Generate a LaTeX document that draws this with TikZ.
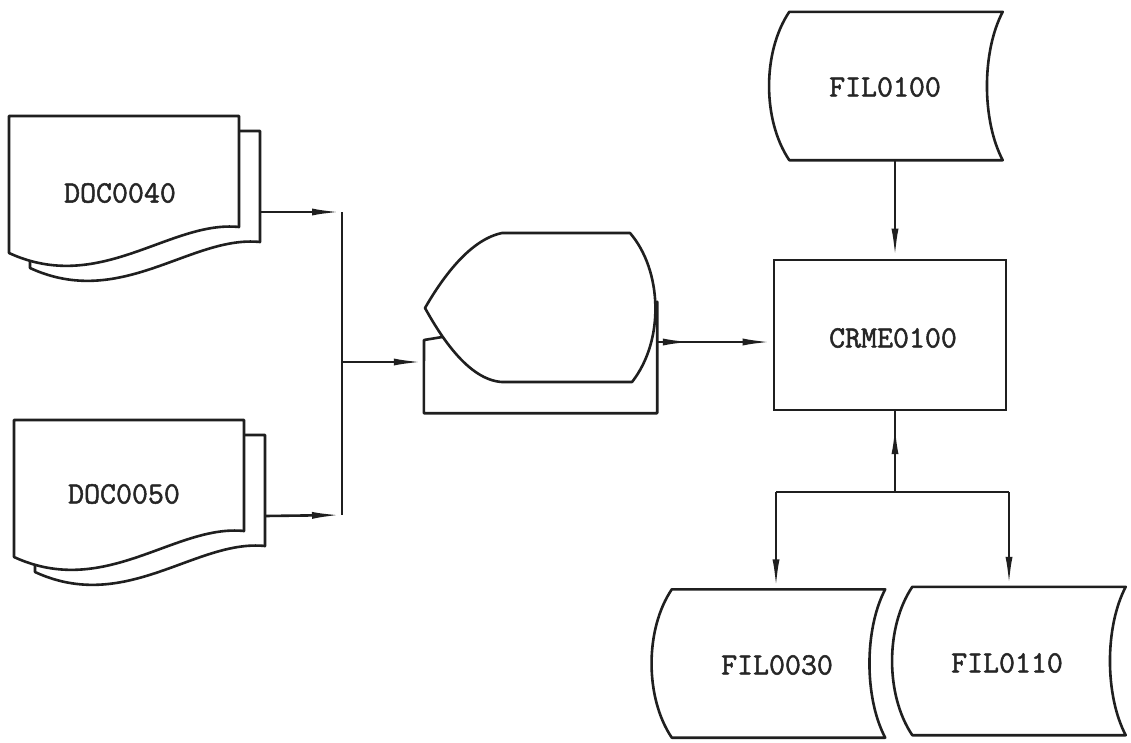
\documentclass[tikz,border=0pt]{standalone}
\usepackage{fontspec}
\newfontfamily\lblfont{Latin Modern Mono}[FakeBold=1.6]
\usetikzlibrary{arrows.meta,decorations.markings}
\tikzset{
  ln/.style={draw=black!88, line width=2.6pt, line join=round},
  flowtip/.tip={Latex[length=30pt,width=7pt]},
  flow/.style={ln, -flowtip},
  midflow/.style={ln, postaction={decorate},
    decoration={markings, mark=at position #1 with {\arrow{flowtip}}}},
  lbl/.style={font=\lblfont\bfseries\fontsize{31}{37}\selectfont, text=black!85, inner sep=0pt},
  store/.style={lbl, minimum width=213pt, minimum height=148pt},
  docpic/.pic={
    \draw[ln, fill=white] (21,15) -- (251,15) -- (251,126)
      .. controls (182,119) and (112,194) .. (21,152) -- cycle;
    \draw[ln, fill=white] (0,0) -- (230,0) -- (230,111)
      .. controls (161,104) and (91,179) .. (0,137) -- cycle;
    \coordinate (-out) at (251,96);
  }
}
\newcommand{\storeshape}[1]{%
  \draw[ln, fill=white] (#1.north west)
    .. controls +(-27,40) and +(-27,-40) .. (#1.south west)
    -- (#1.south east)
    .. controls +(-21,-40) and +(-21,40) .. (#1.north east) -- cycle;}
\begin{document}
\begin{tikzpicture}[x=1pt, y=-1pt]
\useasboundingbox[fill=white] (0,0) rectangle (1131,742);

% documents
\pic (d40) at (9,116) {docpic};
\node[lbl] (doc40) at (120,193) {DOC0040};
\pic (d50) at (14,420) {docpic};
\node[lbl] (doc50) at (124,494) {DOC0050};

% junctions
\coordinate (jA) at (342,212);
\coordinate (jB) at (342,515);
\coordinate (jM) at (342,362);
\draw[flow] (d40-out) -- (jA);
\draw[flow] (d50-out) -- (jB);
\draw[ln] (jA) -- (jB);

% online keyboard + display
\node[inner sep=0pt, minimum width=233pt, minimum height=111pt] (kbd) at (540.5,357.5) {};
\draw[ln, fill=white] (kbd.south west) -- (424,340) -- (kbd.north east) -- (kbd.south east) -- cycle;
\draw[ln, fill=white] (425,308) .. controls (440,282) and (468,240) .. (502,233)
  -- (630,233) .. controls (662,270) and (665,340) .. (632,382)
  -- (502,382) .. controls (468,380) and (440,335) .. (425,308) -- cycle;
\draw[flow] (jM) -- (jM -| kbd.west);

% process
\node[lbl, draw=black!88, line width=2.6pt, minimum width=232pt, minimum height=150pt] (crme) at (890,335) {};
\node[lbl] (crmet) at (893,338) {CRME0100};
\coordinate (m2) at (657,342);
\draw[midflow=0.31, -flowtip] (m2) -- (m2 -| crme.west);

% storage files
\node[store] (f100) at (896,86) {};
\storeshape{f100}
\node[lbl] (f100t) at (885,87) {FIL0100};
\node[store] (f30) at (778.5,663.5) {};
\storeshape{f30}
\node[lbl] (f30t) at (777,665) {FIL0030};
\node[store] (f110) at (1019,661) {};
\storeshape{f110}
\node[lbl] (f110t) at (1007,663) {FIL0110};

\draw[flow] (f100.south -| 895,0) -- (crme.north -| 895,0);

\coordinate (jD) at (895,492);
\coordinate (jL) at (776,492);
\coordinate (jR) at (1009,492);
\draw[midflow=0.84] (jD) -- (jD |- crme.south);
\draw[ln] (jL) -- (jR);
\draw[flow] (jL) -- (jL |- f30.north);
\draw[flow] (jR) -- (jR |- f110.north);
\end{tikzpicture}
\end{document}
